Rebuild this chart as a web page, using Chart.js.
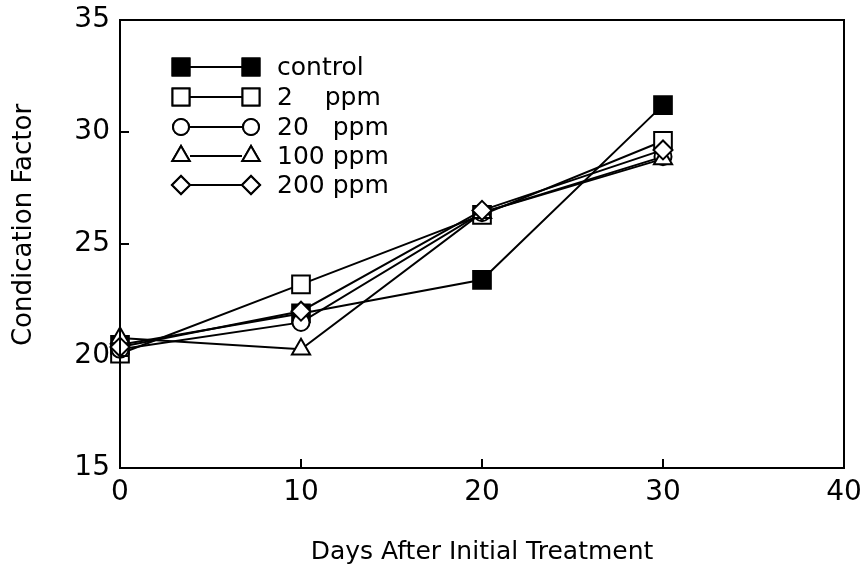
<!DOCTYPE html>
<html>
<head>
<meta charset="utf-8">
<script src="https://cdn.jsdelivr.net/npm/chart.js@4"></script>
<style>
  html, body { margin: 0; padding: 0; background: #fff; }
  #wrap { width: 867px; height: 571px; position: relative; }
</style>
</head>
<body>
<div id="wrap"><canvas id="myChart" width="867" height="571"></canvas></div>
<script>
// DATA
const days = [0, 10, 20, 30];
const control = [20.5, 21.9, 23.4, 31.2];
const ppm2 = [20.1, 23.2, 26.3, 29.6];
const ppm20 = [20.3, 21.5, 26.4, 28.9];
const ppm100 = [20.8, 20.3, 26.4, 28.8];
const ppm200 = [20.4, 22.0, 26.5, 29.2];
const seriesLabels = ['control', '2    ppm', '20   ppm', '100 ppm', '200 ppm'];
const xTicks = [0, 10, 20, 30, 40];
const yTicks = [15, 20, 25, 30, 35];
const yTitle = 'Condication Factor';

const FONT = "'DejaVu Sans', sans-serif";

// marker sizes so that every shape is about 18px across
const RADIUS = { rect: 12.5, circle: 8.5, triangle: 10.5, rectRot: 9.5 };

function pts(vals) {
  return vals.map((v, i) => ({ x: days[i], y: v }));
}

function makeSet(label, vals, style, filled) {
  return {
    label: label,
    data: pts(vals),
    borderColor: '#000',
    borderWidth: 2,
    pointStyle: style,
    pointRadius: RADIUS[style],
    pointBorderWidth: 2,
    pointBorderColor: '#000',
    pointBackgroundColor: filled ? '#000' : '#fff',
    showLine: true,
    fill: false,
    clip: false
  };
}

// legend drawn as marker — line — marker, inward ticks, y title
const extras = {
  id: 'extras',
  afterDatasetsDraw(chart) {
    const ctx = chart.ctx;
    const xs = chart.scales.x, ys = chart.scales.y;
    const area = chart.chartArea;
    ctx.save();
    ctx.strokeStyle = '#000';
    ctx.lineWidth = 2;
    // inward tick marks
    xTicks.slice(1, -1).forEach(t => {
      const px = xs.getPixelForValue(t);
      ctx.beginPath(); ctx.moveTo(px, area.bottom); ctx.lineTo(px, area.bottom - 9); ctx.stroke();
    });
    yTicks.slice(1, -1).forEach(t => {
      const py = ys.getPixelForValue(t);
      ctx.beginPath(); ctx.moveTo(area.left, py); ctx.lineTo(area.left + 9, py); ctx.stroke();
    });
    // legend
    const styles = ['rect', 'rect', 'circle', 'triangle', 'rectRot'];
    const fills = [true, false, false, false, false];
    const rows = [67, 97, 127, 156, 185];
    ctx.font = '25px ' + FONT;
    ctx.textBaseline = 'middle';
    rows.forEach((y, i) => {
      const x1 = 181, x2 = 251;
      ctx.beginPath(); ctx.moveTo(x1 + 9, y); ctx.lineTo(x2 - 9, y); ctx.stroke();
      [x1, x2].forEach(x => {
        ctx.fillStyle = fills[i] ? '#000' : '#fff';
        Chart.helpers.drawPoint(ctx, {
          pointStyle: styles[i],
          radius: RADIUS[styles[i]] - 0.5,
          borderWidth: 2
        }, x, y);
        ctx.fill();
        ctx.stroke();
      });
      ctx.fillStyle = '#000';
      ctx.fillText(seriesLabels[i], 277, y + 1);
    });
    // y axis title (sits a little above the middle of the axis)
    ctx.translate(24, 225);
    ctx.rotate(-Math.PI / 2);
    ctx.font = '26px ' + FONT;
    ctx.textAlign = 'center';
    ctx.fillText(yTitle, 0, 0);
    ctx.restore();
  }
};

let config = {
  type: 'scatter',
  data: {
    datasets: [
      makeSet('200 ppm', ppm200, 'rectRot', false),
      makeSet('100 ppm', ppm100, 'triangle', false),
      makeSet('20 ppm', ppm20, 'circle', false),
      makeSet('2 ppm', ppm2, 'rect', false),
      makeSet('control', control, 'rect', true)
    ]
  },
  options: {
    responsive: false,
    animation: false,
    layout: { padding: { left: 0, right: 23, top: 20, bottom: 0 } },
    plugins: {
      legend: { display: false },
      tooltip: { enabled: false }
    },
    scales: {
      x: {
        type: 'linear',
        min: 0, max: 40,
        afterBuildTicks: s => { s.ticks = xTicks.map(v => ({ value: v })); },
        afterFit: s => { s.height = 103; s.paddingLeft = 0; s.paddingRight = 0; },
        grid: { display: false, drawTicks: false },
        border: { display: true, color: '#000', width: 2 },
        ticks: { color: '#000', font: { family: FONT, size: 28 }, padding: 8 },
        title: { display: true, text: 'Days After Initial Treatment', color: '#000',
                 font: { family: FONT, size: 25 }, padding: { top: 18 } }
      },
      y: {
        type: 'linear',
        min: 15, max: 35,
        afterBuildTicks: s => { s.ticks = yTicks.map(v => ({ value: v })); },
        afterFit: s => { s.width = 120; s.paddingTop = 0; s.paddingBottom = 0; },
        grid: { display: false, drawTicks: false },
        border: { display: true, color: '#000', width: 2 },
        ticks: { color: '#000', font: { family: FONT, size: 28 }, padding: 10 },
        title: { display: false }
      }
    }
  },
  plugins: [extras, {
    id: 'box',
    afterDraw(chart) {
      const a = chart.chartArea, ctx = chart.ctx;
      ctx.save();
      ctx.strokeStyle = '#000'; ctx.lineWidth = 2;
      ctx.strokeRect(a.left, a.top, a.right - a.left, a.bottom - a.top);
      ctx.restore();
    }
  }]
};

let myChart = new Chart(document.getElementById('myChart'), config);
</script>
</body>
</html>
